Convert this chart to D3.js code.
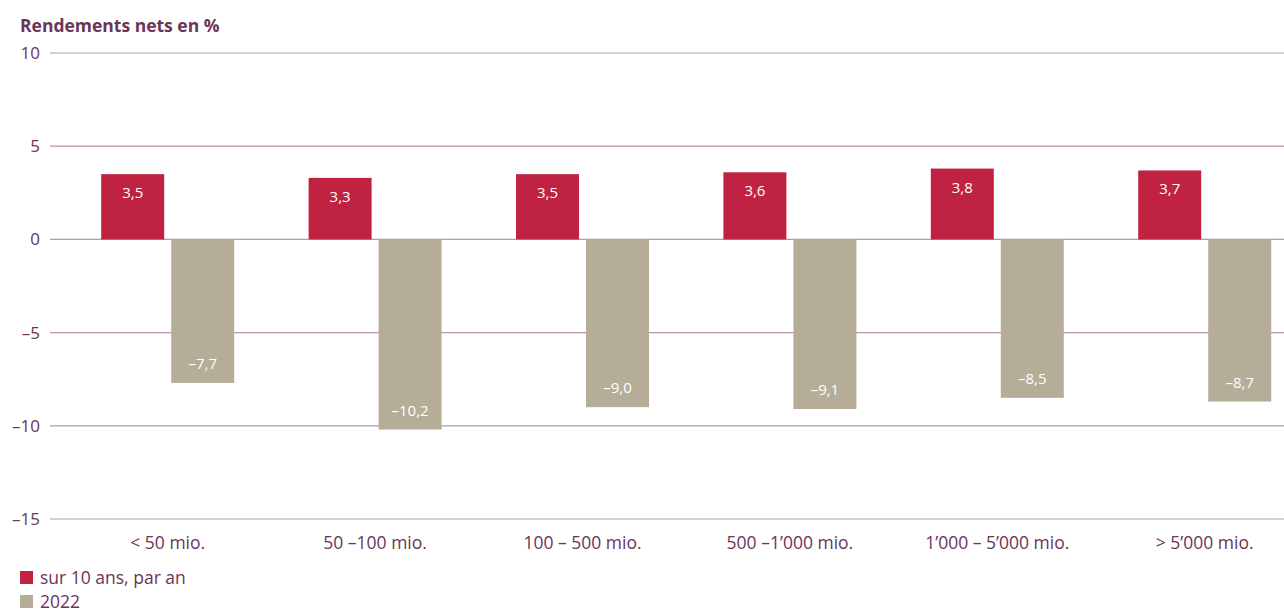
<!DOCTYPE html>
<html><head><meta charset="utf-8">
<script src="https://cdn.jsdelivr.net/npm/d3@7"></script>
<style>
body{margin:0;background:#fff;}
text{font-family:"Open Sans","Noto Sans",sans-serif;}
</style></head>
<body><svg id="c" width="1284" height="612"></svg>
<script>
const categories = ["< 50 mio.", "50 –100 mio.", "100 – 500 mio.", "500 –1’000 mio.", "1’000 – 5’000 mio.", "> 5’000 mio."];
const tenYear = [3.5, 3.3, 3.5, 3.6, 3.8, 3.7];
const year2022 = [-7.7, -10.2, -9.0, -9.1, -8.5, -8.7];
const seriesNames = ["sur 10 ans, par an", "2022"];
const yTicks = [10, 5, 0, -5, -10, -15];

const purple = "#6b3556";
const gridC = "#b995ae";
const red = "#c02241";
const grey = "#b5ad98";

const svg = d3.select("#c");
const y = d3.scaleLinear().domain([-15, 10]).range([519, 53]);
const x = d3.scaleBand().domain(categories).range([64, 1308.4]).padding(0);
const fmt = v => (v < 0 ? "\u2013" : "") + Math.abs(v).toFixed(1).replace(".", ",");

// grid
svg.append("g").selectAll("line").data(yTicks).join("line")
  .attr("x1", 50).attr("x2", 1284)
  .attr("y1", d => y(d)).attr("y2", d => y(d))
  .attr("stroke", gridC).attr("stroke-width", 1.2);

svg.append("g").selectAll("text").data(yTicks).join("text")
  .attr("x", 40).attr("y", d => y(d) + 6)
  .attr("text-anchor", "end").attr("font-size", 17).attr("fill", purple)
  .text(d => (d < 0 ? "\u2013" : "") + Math.abs(d));

svg.append("text").attr("x", 20).attr("y", 32).attr("font-size", 17.5)
  .attr("font-weight", "bold").attr("fill", purple).text("Rendements nets en %");

const bw = 63, gap = 3.5;
const cx = c => x(c) + x.bandwidth() / 2;

// red bars
svg.append("g").selectAll("rect").data(categories).join("rect")
  .attr("x", (c) => cx(c) - gap - bw)
  .attr("width", bw)
  .attr("y", (c, i) => y(tenYear[i]))
  .attr("height", (c, i) => y(0) - y(tenYear[i]))
  .attr("fill", red);
svg.append("g").selectAll("text").data(categories).join("text")
  .attr("x", c => cx(c) - gap - bw / 2)
  .attr("y", (c, i) => y(tenYear[i]) + 24)
  .attr("text-anchor", "middle").attr("font-size", 15).attr("fill", "#fff")
  .text((c, i) => fmt(tenYear[i]));

// grey bars
svg.append("g").selectAll("rect").data(categories).join("rect")
  .attr("x", c => cx(c) + gap)
  .attr("width", bw)
  .attr("y", y(0))
  .attr("height", (c, i) => y(year2022[i]) - y(0))
  .attr("fill", grey);
svg.append("g").selectAll("text").data(categories).join("text")
  .attr("x", c => cx(c) + gap + bw / 2)
  .attr("y", (c, i) => y(year2022[i]) - 14)
  .attr("text-anchor", "middle").attr("font-size", 15).attr("fill", "#fff")
  .text((c, i) => fmt(year2022[i]));

// category labels
svg.append("g").selectAll("text").data(categories).join("text")
  .attr("x", c => cx(c)).attr("y", 549)
  .attr("text-anchor", "middle").attr("font-size", 17.5).attr("fill", purple)
  .text(d => d);

// legend
const lg = svg.append("g").selectAll("g").data(seriesNames).join("g")
  .attr("transform", (d, i) => `translate(20,${571 + i * 24})`);
lg.append("rect").attr("width", 13).attr("height", 13).attr("fill", (d, i) => i ? grey : red);
lg.append("text").attr("x", 20).attr("y", 13).attr("font-size", 17.5).attr("fill", purple).text(d => d);
</script></body></html>
